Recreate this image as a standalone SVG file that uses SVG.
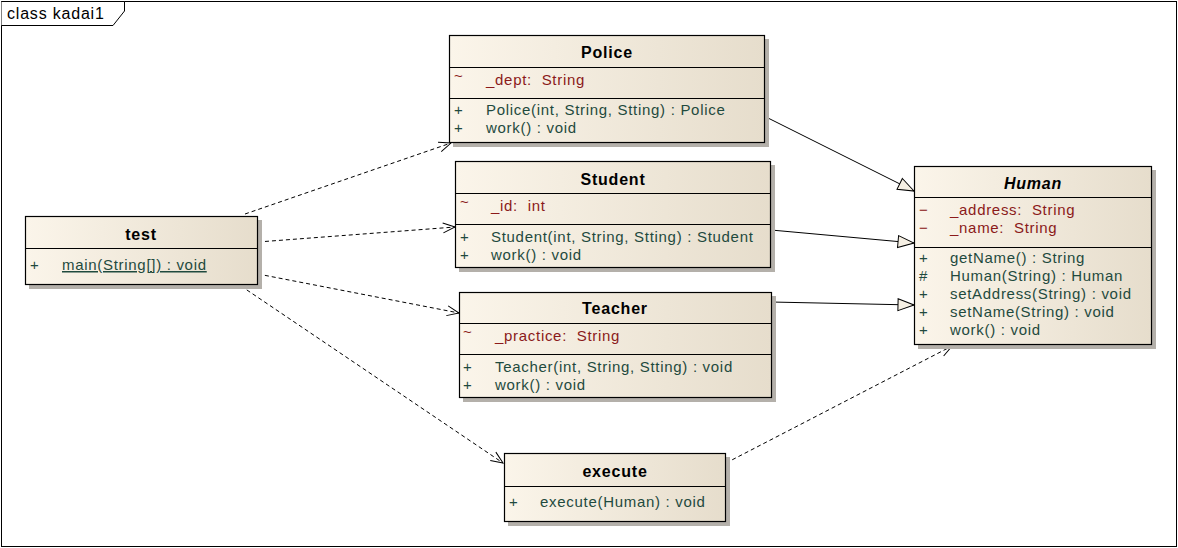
<svg xmlns="http://www.w3.org/2000/svg" width="1178" height="548" viewBox="0 0 1178 548">
<defs>
<linearGradient id="fill" x1="0" y1="0" x2="1" y2="0">
<stop offset="0" stop-color="#fbf5ea"/>
<stop offset="1" stop-color="#e6ddcc"/>
</linearGradient>
<marker id="open" viewBox="0 0 14 12" refX="13" refY="6" markerWidth="14" markerHeight="12" markerUnits="userSpaceOnUse" orient="auto">
<path d="M1,1 L13,6 L1,11" fill="none" stroke="#000" stroke-width="1"/>
</marker>
<marker id="tri" viewBox="0 0 18 14" refX="17" refY="7" markerWidth="18" markerHeight="14" markerUnits="userSpaceOnUse" orient="auto">
<path d="M1,1 L17,7 L1,13 Z" fill="#f6f0e4" stroke="#000" stroke-width="1"/>
</marker>
</defs>
<style>
text{font-family:"Liberation Sans",Arial,sans-serif;font-size:15px;letter-spacing:0.7px;white-space:pre}
.box{fill:url(#fill);stroke:#000;stroke-width:1.2}
.sh{fill:#b4b0aa}
.sep{stroke:#000;stroke-width:1}
.hd{font-weight:bold;text-anchor:middle;fill:#000;font-size:16px;letter-spacing:0.8px}
.at{fill:#8b1a1a}
.op{fill:#1f4a3e}
.dep{fill:none;stroke:#000;stroke-width:1;stroke-dasharray:4,3;marker-end:url(#open)}
.gen{fill:none;stroke:#000;stroke-width:1;marker-end:url(#tri)}
</style>
<rect x="1.5" y="1.5" width="1175" height="545" fill="#fff" stroke="#000" stroke-width="1"/>
<path d="M1.5,1.5 L124.5,1.5 L124.5,11 L113,25.5 L1.5,25.5" fill="#fff" stroke="#000" stroke-width="1"/>
<text x="7" y="19" style="font-size:16px;letter-spacing:0.8px">class kadai1</text>

<g id="connectors">
<line class="dep" x1="245" y1="214" x2="451" y2="143"/>
<line class="dep" x1="258" y1="242" x2="455" y2="227"/>
<line class="dep" x1="258" y1="274" x2="459" y2="313"/>
<line class="dep" x1="241" y1="286" x2="503" y2="463"/>
<line class="dep" x1="726" y1="463" x2="952" y2="346"/>
<line class="gen" x1="766" y1="117" x2="914" y2="191"/>
<line class="gen" x1="771" y1="230" x2="914" y2="243"/>
<line class="gen" x1="771" y1="302" x2="914" y2="305"/>
</g>

<g id="test">
<rect class="sh" x="29" y="220" width="233" height="69"/>
<rect class="box" x="25.5" y="216.5" width="232" height="68"/>
<line class="sep" x1="25.5" y1="248.5" x2="257.5" y2="248.5"/>
<text class="hd" x="141" y="240">test</text>
<text class="op" x="30" y="270">+</text>
<text class="op" x="62" y="270" text-decoration="underline">main(String[]) : void</text>
</g>

<g id="Police">
<rect class="sh" x="453" y="39" width="316" height="108"/>
<rect class="box" x="449.5" y="35.5" width="315" height="107"/>
<line class="sep" x1="449.5" y1="67.5" x2="764.5" y2="67.5"/>
<line class="sep" x1="449.5" y1="98.5" x2="764.5" y2="98.5"/>
<text class="hd" x="607" y="58">Police</text>
<text class="at" x="454" y="81">~</text>
<text class="at" x="486" y="85">_dept:  String</text>
<text class="op" x="454" y="115">+</text>
<text class="op" x="486" y="115">Police(int, String, Stting) : Police</text>
<text class="op" x="454" y="133">+</text>
<text class="op" x="486" y="133">work() : void</text>
</g>

<g id="Student">
<rect class="sh" x="459" y="165" width="316" height="107"/>
<rect class="box" x="455.5" y="161.5" width="315" height="106"/>
<line class="sep" x1="455.5" y1="193.5" x2="770.5" y2="193.5"/>
<line class="sep" x1="455.5" y1="224.5" x2="770.5" y2="224.5"/>
<text class="hd" x="613" y="185">Student</text>
<text class="at" x="460" y="207">~</text>
<text class="at" x="491" y="211">_id:  int</text>
<text class="op" x="460" y="242">+</text>
<text class="op" x="491" y="242">Student(int, String, Stting) : Student</text>
<text class="op" x="460" y="260">+</text>
<text class="op" x="491" y="260">work() : void</text>
</g>

<g id="Teacher">
<rect class="sh" x="463" y="296" width="313" height="106"/>
<rect class="box" x="459.5" y="292.5" width="312" height="105"/>
<line class="sep" x1="459.5" y1="323.5" x2="771.5" y2="323.5"/>
<line class="sep" x1="459.5" y1="354.5" x2="771.5" y2="354.5"/>
<text class="hd" x="615" y="314">Teacher</text>
<text class="at" x="463" y="337">~</text>
<text class="at" x="495" y="341">_practice:  String</text>
<text class="op" x="463" y="372">+</text>
<text class="op" x="495" y="372">Teacher(int, String, Stting) : void</text>
<text class="op" x="463" y="390">+</text>
<text class="op" x="495" y="390">work() : void</text>
</g>

<g id="execute">
<rect class="sh" x="508" y="457" width="222" height="69"/>
<rect class="box" x="504.5" y="453.5" width="221" height="68"/>
<line class="sep" x1="504.5" y1="486.5" x2="725.5" y2="486.5"/>
<text class="hd" x="615" y="477">execute</text>
<text class="op" x="509" y="507">+</text>
<text class="op" x="540" y="507">execute(Human) : void</text>
</g>

<g id="Human">
<rect class="sh" x="918" y="170" width="238" height="179"/>
<rect class="box" x="914.5" y="166.5" width="237" height="178"/>
<line class="sep" x1="914.5" y1="197.5" x2="1151.5" y2="197.5"/>
<line class="sep" x1="914.5" y1="247.5" x2="1151.5" y2="247.5"/>
<text class="hd" x="1033" y="189" font-style="italic">Human</text>
<text class="at" x="919" y="215">−</text>
<text class="at" x="950" y="215">_address:  String</text>
<text class="at" x="919" y="233">−</text>
<text class="at" x="950" y="233">_name:  String</text>
<text class="op" x="919" y="263">+</text>
<text class="op" x="950" y="263">getName() : String</text>
<text class="op" x="919" y="281">#</text>
<text class="op" x="950" y="281">Human(String) : Human</text>
<text class="op" x="919" y="299">+</text>
<text class="op" x="950" y="299">setAddress(String) : void</text>
<text class="op" x="919" y="317">+</text>
<text class="op" x="950" y="317">setName(String) : void</text>
<text class="op" x="919" y="335">+</text>
<text class="op" x="950" y="335">work() : void</text>
</g>
</svg>
